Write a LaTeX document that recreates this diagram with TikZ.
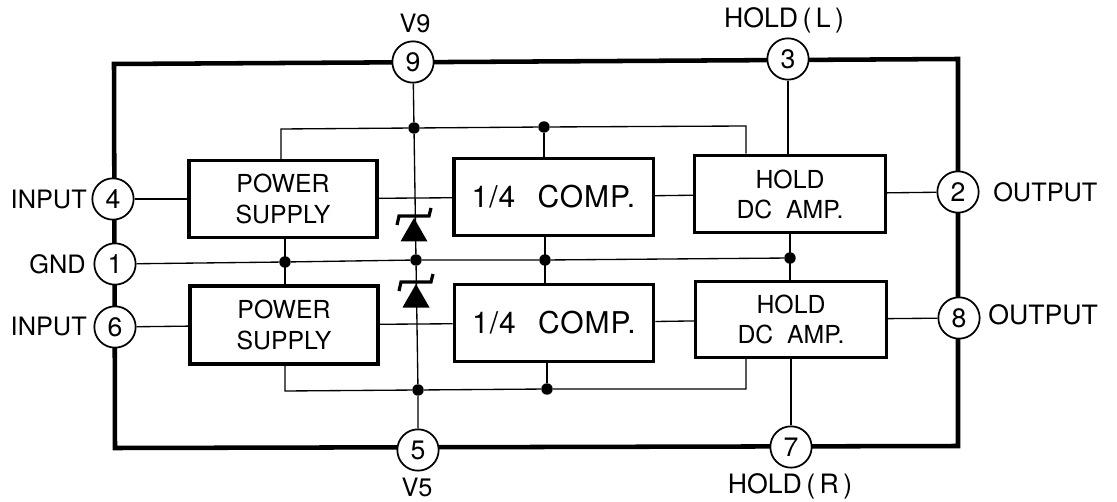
\documentclass[tikz,border=0pt]{standalone}
\usepackage{fontspec}
\setmainfont{TeX Gyre Heros}
\tikzset{
  pin/.style={draw, circle, line width=1.3pt, minimum size=31pt, inner sep=0pt, fill=white, font=\fontsize{20}{20}\selectfont},
  block/.style={draw, line width=2.6pt, align=center, inner sep=0pt, font=\fontsize{18.6}{23}\selectfont},
  compblock/.style={block, font=\fontsize{22.5}{22.5}\selectfont\addfontfeature{LetterSpace=3}},
  lbl/.style={font=\fontsize{19}{19}\selectfont, inner sep=0pt},
  wire/.style={line width=1pt},
  dot/.style={circle, fill=black, inner sep=0pt, minimum size=8.6pt},
  zener/.pic={
    \fill (-13.5,25.5) -- (13.5,25.5) -- (0,2) -- cycle;
    \draw[line width=2.4pt] (-17,9) -- (-15,0) -- (15,0) -- (17,-8);
  }
}
\begin{document}
\begin{tikzpicture}[x=0.75pt, y=-0.75pt]
\useasboundingbox (0,0) rectangle (1117,502);

% outer frame
\draw[line width=3.4pt] (114,64) -- (958,59) -- (958,446) -- (115,448) -- cycle;

% pins
\node[pin] (pin9) at (413,62) {9};
\node[pin] (pin3) at (788,59) {3};
\node[pin] (pin4) at (113,199) {4};
\node[pin] (pin1) at (115,264) {1};
\node[pin] (pin6) at (115,327) {6};
\node[pin] (pin2) at (958,192) {2};
\node[pin] (pin8) at (959,318) {8};
\node[pin] (pin5) at (418,450) {5};
\node[pin] (pin7) at (791,447) {7};

% blocks
\node[block, minimum width=141pt, minimum height=57.4pt] (supply1) at (283,199) {POWER\\SUPPLY};
\node[block, minimum width=141pt, minimum height=58.5pt] (supply2) at (284,325) {POWER\\SUPPLY};
\node[compblock, minimum width=149.6pt, minimum height=57.4pt] (comp1) at (553.5,197) {1/4\hspace{0.75em}COMP.};
\node[compblock, minimum width=149.3pt, minimum height=57.8pt] (comp2) at (554,323) {1/4\hspace{0.75em}COMP.};
\node[block, minimum width=143pt, minimum height=58pt, font=\fontsize{18.6}{22.5}\selectfont] (hold1) at (790,194) {HOLD\\DC\ \ AMP.};
\node[block, minimum width=143pt, minimum height=57pt, font=\fontsize{18.6}{22.5}\selectfont] (hold2) at (791,319.5) {HOLD\\DC\ \ AMP.};

% junctions
\node[dot] (top1) at (414,128) {};
\node[dot] (top2) at (544,127) {};
\node[dot] (mid1) at (285,262) {};
\node[dot] (mid2) at (416,260) {};
\node[dot] (mid3) at (545,260) {};
\node[dot] (mid4) at (790,258) {};
\node[dot] (bot1) at (418,390) {};
\node[dot] (bot2) at (547,389) {};
\coordinate (topl) at (281,129);
\coordinate (topr) at (746,126);
\coordinate (botl) at (285,391);
\coordinate (botr) at (746,389);

% top rail
\draw[wire] (supply1.north -| topl) -- (topl) -- (top1) -- (top2) -- (topr) -- (hold1.north -| topr);
\draw[wire] (top2) -- (top2 |- comp1.north);
\draw[wire] (pin9) -- (top1) -- (mid2);

% ground rail
\draw[wire] (pin1) -- (mid1) -- (mid2) -- (mid3) -- (mid4);
\draw[wire] (mid1 |- supply1.south) -- (mid1 |- supply2.north);
\draw[wire] (mid3 |- comp1.south) -- (mid3 |- comp2.north);
\draw[wire] (mid4 |- hold1.south) -- (mid4 |- hold2.north);

% bottom rail
\draw[wire] (supply2.south -| botl) -- (botl) -- (bot1) -- (bot2) -- (botr) -- (hold2.south -| botr);
\draw[wire] (bot2) -- (bot2 |- comp2.south);
\draw[wire] (pin5) -- (bot1) -- (mid2);

% signal lines
\draw[wire] (pin4) -- (supply1);
\draw[wire] (supply1) -- (comp1);
\draw[wire] (comp1) -- (hold1);
\draw[wire] (hold1) -- (pin2);
\draw[wire] (pin6) -- (supply2);
\draw[wire] (supply2) -- (comp2);
\draw[wire] (comp2) -- (hold2);
\draw[wire] (hold2) -- (pin8);
\draw[wire] (pin3) -- (pin3 |- hold1.north);
\draw[wire] (pin7) -- (pin7 |- hold2.south);

% zener diodes
\pic at (414,216) {zener};
\pic at (416,282) {zener};

% labels
\node[lbl, anchor=east] (in1) at (87,199) {INPUT};
\node[lbl, anchor=east] (gnd) at (86,264) {GND};
\node[lbl, anchor=east] (in2) at (87,326) {INPUT};
\node[lbl, anchor=west] (out1) at (993,192) {OUTPUT};
\node[lbl, anchor=west, font=\fontsize{20}{20}\selectfont] (out2) at (988,315) {OUTPUT};
\node[lbl] (v9) at (415,23) {V9};
\node[lbl, font=\fontsize{20}{20}\selectfont] (holdl) at (784,20) {HOLD\,(\,L\,)};
\node[lbl] (v5) at (417,487) {V5};
\node[lbl, font=\fontsize{20}{20}\selectfont] (holdr) at (790,486) {HOLD\,(\,R\,)};

\end{tikzpicture}
\end{document}
